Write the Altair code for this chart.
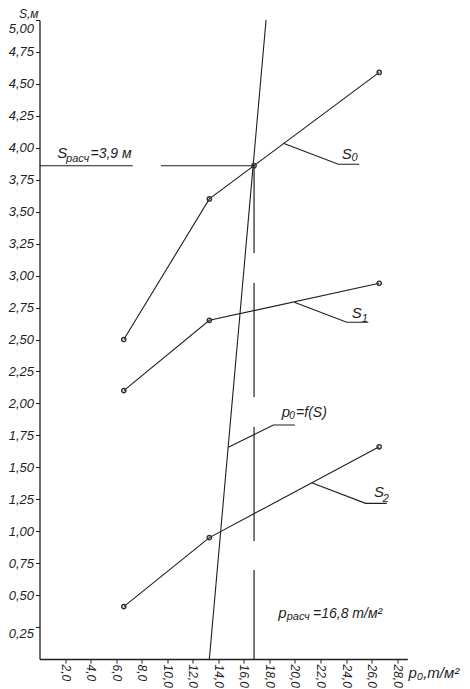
import altair as alt
import pandas as pd

# ---- data ----
p_pts = [6.6, 13.3, 26.6]
S0_vals = [2.50, 3.60, 4.59]
S1_vals = [2.10, 2.65, 2.94]
S2_vals = [0.41, 0.95, 1.66]

p_calc = 16.8
S_calc = 3.86

# p0 = f(S) line (p, S)
pf_p = [13.3, 17.74]
pf_S = [0.0, 5.0]

# vertical line at p_calc, drawn in pieces (S from, S to)
vert_from = [3.865, 2.942, 1.815, 0.696]
vert_to = [3.177, 2.050, 0.923, 0.0]
# horizontal line at S_calc, pieces (p from, p to)
hor_from = [0.0, 9.51]
hor_to = [7.30, 16.8]

# leader lines for labels
lead_names = ["S0", "S0", "S0", "S1", "S1", "S1", "S2", "S2", "S2", "pf", "pf", "pf"]
lead_p = [19.09, 23.40, 25.04, 19.95, 24.06, 25.75, 21.31, 25.54, 27.19, 14.79, 18.31, 20.00]
lead_S = [4.035, 3.871, 3.871, 2.791, 2.635, 2.635, 1.379, 1.218, 1.218, 1.657, 1.831, 1.831]

# text pieces (p, S, text, size)
txt_p = [1.39, 2.08, 3.99,
         18.70, 19.36, 21.42,
         18.97, 19.56, 20.09,
         23.67, 24.43,
         24.45, 25.23,
         26.19, 26.87]
txt_S = [3.918, 3.891, 3.918,
         0.318, 0.305, 0.318,
         1.891, 1.876, 1.891,
         3.910, 3.893,
         2.666, 2.640,
         1.265, 1.231]
txt_t = ["S", "расч", "=3,9   м",
         "p", "расч", "=16,8  т/м²",
         "p", "0", "=f(S)",
         "S", "0",
         "S", "1",
         "S", "2"]
txt_sz = [15, 11, 14,
          15, 11, 14,
          15, 10, 14,
          15, 11,
          15, 11,
          15, 11]

x_ticks = [2, 4, 6, 8, 10, 12, 14, 16, 18, 20, 22, 24, 26, 28]
y_ticks = [0.25, 0.5, 0.75, 1.0, 1.25, 1.5, 1.75, 2.0, 2.25, 2.5, 2.75, 3.0,
           3.25, 3.5, 3.75, 4.0, 4.25, 4.5, 4.75, 5.0]

# ---- tables ----
rows = []
for name, vals in [("S0", S0_vals), ("S1", S1_vals), ("S2", S2_vals)]:
    for i, (p, s) in enumerate(zip(p_pts, vals)):
        rows.append({"series": name, "p": p, "S": s, "o": i})
curves = pd.DataFrame(rows)
pts = pd.concat([curves, pd.DataFrame([{"series": "calc", "p": p_calc, "S": S_calc, "o": 0}])])
pf = pd.DataFrame({"p": pf_p, "S": pf_S, "o": [0, 1]})
vert = pd.DataFrame({"p": [p_calc] * len(vert_from), "s1": vert_from, "s2": vert_to})
hor = pd.DataFrame({"p1": hor_from, "p2": hor_to, "S": [S_calc] * len(hor_from)})
leads = pd.DataFrame({"g": lead_names, "p": lead_p, "S": lead_S, "o": list(range(len(lead_p)))})
texts = pd.DataFrame({"p": txt_p, "S": txt_S, "t": txt_t, "sz": txt_sz})

FONT = "Liberation Sans"
INK = "#1e1e1e"

xs = alt.Scale(domain=[0, 28.8], nice=False)
ys = alt.Scale(domain=[0, 5], nice=False)

x_axis = alt.Axis(values=x_ticks, tickCount=60, labelAngle=90, grid=False,
                  labelExpr="replace(format(datum.value, '.1f'), '.', ',')",
                  labelFont=FONT, labelFontStyle="italic", labelFontSize=12,
                  labelColor=INK, labelPadding=1, tickSize=4, tickColor=INK,
                  domainColor=INK, domainWidth=1.3,
                  title="p₀,т/м²", titleFont=FONT, titleFontStyle="italic",
                  titleFontWeight="normal", titleFontSize=15, titleColor=INK,
                  titleX=368.5, titleY=18, titleAlign="left", titleBaseline="alphabetic",
                  labelOverlap=False)
y_axis = alt.Axis(values=y_ticks, tickCount=60, grid=False,
                  labelExpr="replace(format(datum.value, '.2f'), '.', ',')",
                  labelFont=FONT, labelFontStyle="italic", labelFontSize=13,
                  labelBaseline={"condition": {"test": "datum.value >= 4.9 || datum.value < 0.3",
                                               "value": "top"},
                                 "value": "middle"},
                  labelOffset={"condition": {"test": "datum.value >= 4.9", "value": 2},
                               "value": 0},
                  labelColor=INK, labelPadding=2, tickSize=4, tickColor=INK,
                  domainColor=INK, domainWidth=1.3,
                  title="S,м", titleFont=FONT, titleFontStyle="italic",
                  titleFontWeight="normal", titleFontSize=12, titleColor=INK,
                  titleAngle=0, titleX=-21, titleY=-3, titleAlign="left",
                  titleBaseline="alphabetic", labelOverlap=False)

base_lines = alt.Chart(curves).mark_line(color=INK, strokeWidth=1.1).encode(
    x=alt.X("p:Q", scale=xs, axis=x_axis),
    y=alt.Y("S:Q", scale=ys, axis=y_axis),
    detail="series:N",
    order="o:Q",
)

pf_line = alt.Chart(pf).mark_line(color=INK, strokeWidth=1.1).encode(
    x=alt.X("p:Q", scale=xs, axis=x_axis), y=alt.Y("S:Q", scale=ys, axis=y_axis), order="o:Q")

vert_rules = alt.Chart(vert).mark_rule(color=INK, strokeWidth=1.2).encode(
    x=alt.X("p:Q", scale=xs, axis=x_axis), y=alt.Y("s1:Q", scale=ys, axis=y_axis), y2="s2:Q")

hor_rules = alt.Chart(hor).mark_rule(color=INK, strokeWidth=1.1).encode(
    x=alt.X("p1:Q", scale=xs, axis=x_axis), x2="p2:Q", y=alt.Y("S:Q", scale=ys, axis=y_axis))

lead_lines = alt.Chart(leads).mark_line(color=INK, strokeWidth=1.1).encode(
    x=alt.X("p:Q", scale=xs, axis=x_axis), y=alt.Y("S:Q", scale=ys, axis=y_axis),
    detail="g:N", order="o:Q")

points = alt.Chart(pts).mark_point(filled=False, color="#333333", size=18,
                                   strokeWidth=1.4, opacity=1).encode(
    x=alt.X("p:Q", scale=xs, axis=x_axis), y=alt.Y("S:Q", scale=ys, axis=y_axis))

labels = alt.Chart(texts).mark_text(align="left", baseline="alphabetic", font=FONT,
                                    fontStyle="italic", color=INK).encode(
    x=alt.X("p:Q", scale=xs, axis=x_axis), y=alt.Y("S:Q", scale=ys, axis=y_axis),
    text="t:N", size=alt.Size("sz:Q", scale=None))

chart = alt.layer(base_lines, pf_line, vert_rules, hor_rules, lead_lines, points, labels).properties(
    width=367.8, height=639,
    autosize=alt.AutoSizeParams(type="none"),
    padding={"left": 31.5, "top": 12, "right": 54.7, "bottom": 30},
    background="white",
).configure_view(stroke=None)

chart.save("out.html", embed_options={"renderer": "svg", "actions": False})
